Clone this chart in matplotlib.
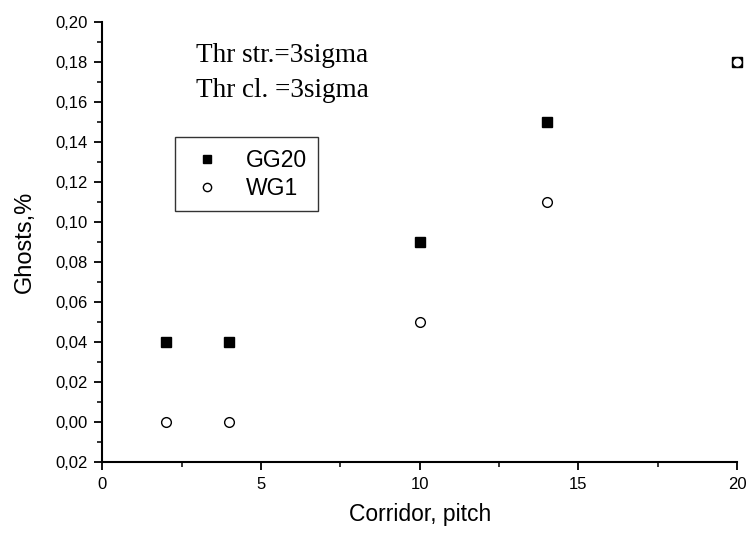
import matplotlib
matplotlib.use('Agg')
import matplotlib.pyplot as plt
from matplotlib.ticker import MultipleLocator

# data
corridor = [2, 4, 10, 14, 20]
gg20 = [0.04, 0.04, 0.09, 0.15, 0.18]
wg1 = [0.00, 0.00, 0.05, 0.11, 0.18]

y_ticks = [-0.02, 0.00, 0.02, 0.04, 0.06, 0.08, 0.10, 0.12, 0.14, 0.16, 0.18, 0.20]
y_labels = ['0,02', '0,00', '0,02', '0,04', '0,06', '0,08', '0,10',
            '0,12', '0,14', '0,16', '0,18', '0,20']
x_ticks = [0, 5, 10, 15, 20]

plt.rcParams['font.family'] = ['Liberation Sans', 'DejaVu Sans']

fig = plt.figure(figsize=(7.47, 5.33), dpi=100)
ax = fig.add_axes([0.1372, 0.1332, 0.8494, 0.826])

ax.plot(corridor, gg20, linestyle='none', marker='s', markersize=7,
        color='black', label='GG20', clip_on=False)
ax.plot(corridor, wg1, linestyle='none', marker='o', markersize=7,
        markerfacecolor='white', markeredgecolor='black', markeredgewidth=1,
        label='WG1', clip_on=False)

ax.set_xlim(0, 20)
ax.set_ylim(-0.02, 0.20)
ax.set_xticks(x_ticks)
ax.set_xticklabels([str(t) for t in x_ticks])
ax.xaxis.set_minor_locator(MultipleLocator(2.5))
ax.set_yticks(y_ticks)
ax.set_yticklabels(y_labels)
ax.yaxis.set_minor_locator(MultipleLocator(0.01))

for side in ['top', 'right']:
    ax.spines[side].set_visible(False)
for side in ['left', 'bottom']:
    ax.spines[side].set_linewidth(1.5)

ax.tick_params(which='major', length=5.8, width=1.3, labelsize=12, pad=5)
ax.tick_params(which='minor', length=3.3, width=1.1)

ax.set_xlabel('Corridor, pitch', fontsize=16.5, labelpad=8)
ax.set_ylabel('Ghosts,%', fontsize=17, labelpad=14)

ax.text(0.147, 0.9085, 'Thr str.=3sigma', transform=ax.transAxes,
        family=['Liberation Serif', 'DejaVu Serif'], fontsize=19.5, va='baseline')
ax.text(0.147, 0.829, 'Thr cl. =3sigma', transform=ax.transAxes,
        family=['Liberation Serif', 'DejaVu Serif'], fontsize=19.5, va='baseline')

leg = ax.legend(loc='upper left', bbox_to_anchor=(0.114, 0.738), fontsize=16.5,
                frameon=True, fancybox=False, edgecolor='black',
                handletextpad=0.75, borderpad=0.5, labelspacing=0.22,
                handlelength=1.85, borderaxespad=0, markerscale=0.85)
leg.get_frame().set_linewidth(1.0)

fig.savefig('out.png', dpi=100)
